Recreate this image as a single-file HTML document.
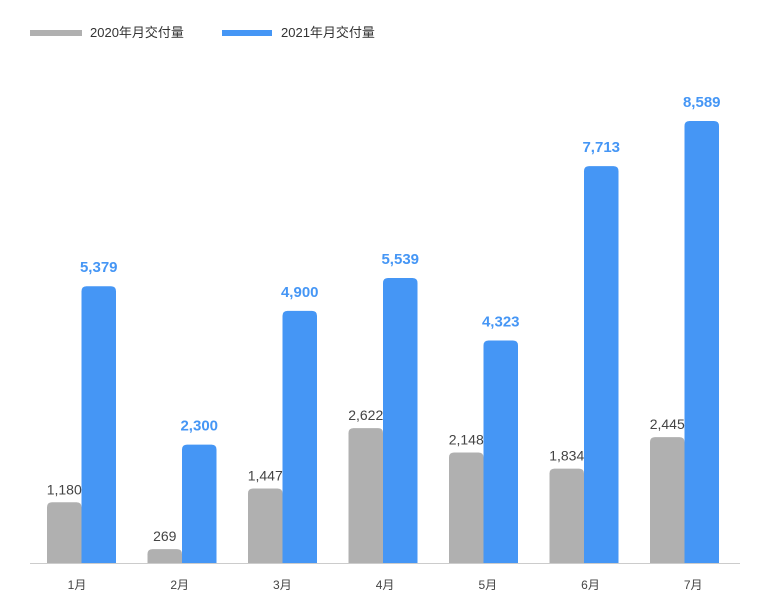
<!DOCTYPE html>
<html><head><meta charset="utf-8"><style>
body{margin:0;background:#fff;width:761px;height:604px;overflow:hidden}
svg{display:block;font-family:"Liberation Sans","Noto Sans CJK SC",sans-serif}
</style></head><body>
<svg id="chart" width="761" height="604" viewBox="0 0 761 604">
<g>
<rect x="30" y="30" width="52" height="6" fill="#b0b0b0"/>
<text x="90" y="37" font-size="13" fill="#333">2020年月交付量</text>
<rect x="222" y="30" width="50" height="6" fill="#4596f5"/>
<text x="281" y="37" font-size="13" fill="#333">2021年月交付量</text>
</g>
<line x1="30" y1="563.5" x2="740" y2="563.5" stroke="#ccc" stroke-width="1"/>
<g id="bars"></g>
</svg>
<script>
const categories=["1月","2月","3月","4月","5月","6月","7月"];
const values2020=[1180,269,1447,2622,2148,1834,2445];
const values2021=[5379,2300,4900,5539,4323,7713,8589];
const ns="http://www.w3.org/2000/svg";
const g=document.getElementById("bars");
const base=563, scale=(563-121)/8589;
const y=v=>base-v*scale;
const x0=i=>47+i*100.5;
const bw=34.5;
function mk(t,a){const e=document.createElementNS(ns,t);for(const k in a)e.setAttribute(k,a[k]);g.appendChild(e);return e;}
function bar(x,v,fill){const top=y(v),h=base-top,r=Math.min(5,h/2);
return mk("path",{d:`M${x},${base}V${top+r}Q${x},${top} ${x+r},${top}H${x+bw-r}Q${x+bw},${top} ${x+bw},${top+r}V${base}Z`,fill:fill});}
const fmt=v=>v.toLocaleString("en-US");
categories.forEach((c,i)=>{
 const x=x0(i);
 const b1=bar(x,values2020[i],"#b0b0b0");
 
 
 const b2=bar(x+bw,values2021[i],"#4596f5");
 
 
 const t1=mk("text",{x:x+bw/2,y:y(values2020[i])-8,"text-anchor":"middle","font-size":"14",fill:"#444"});
 t1.textContent=fmt(values2020[i]);
 
 
 const t2=mk("text",{x:x+bw*1.5,y:y(values2021[i])-14,"text-anchor":"middle","font-size":"15","font-weight":"bold",fill:"#4596f5"});
 t2.textContent=fmt(values2021[i]);
 
 
 const t3=mk("text",{x:77+i*102.7,y:589,"text-anchor":"middle","font-size":"12",fill:"#444"});
 t3.textContent=c;
 
 
});
</script>
</body></html>
